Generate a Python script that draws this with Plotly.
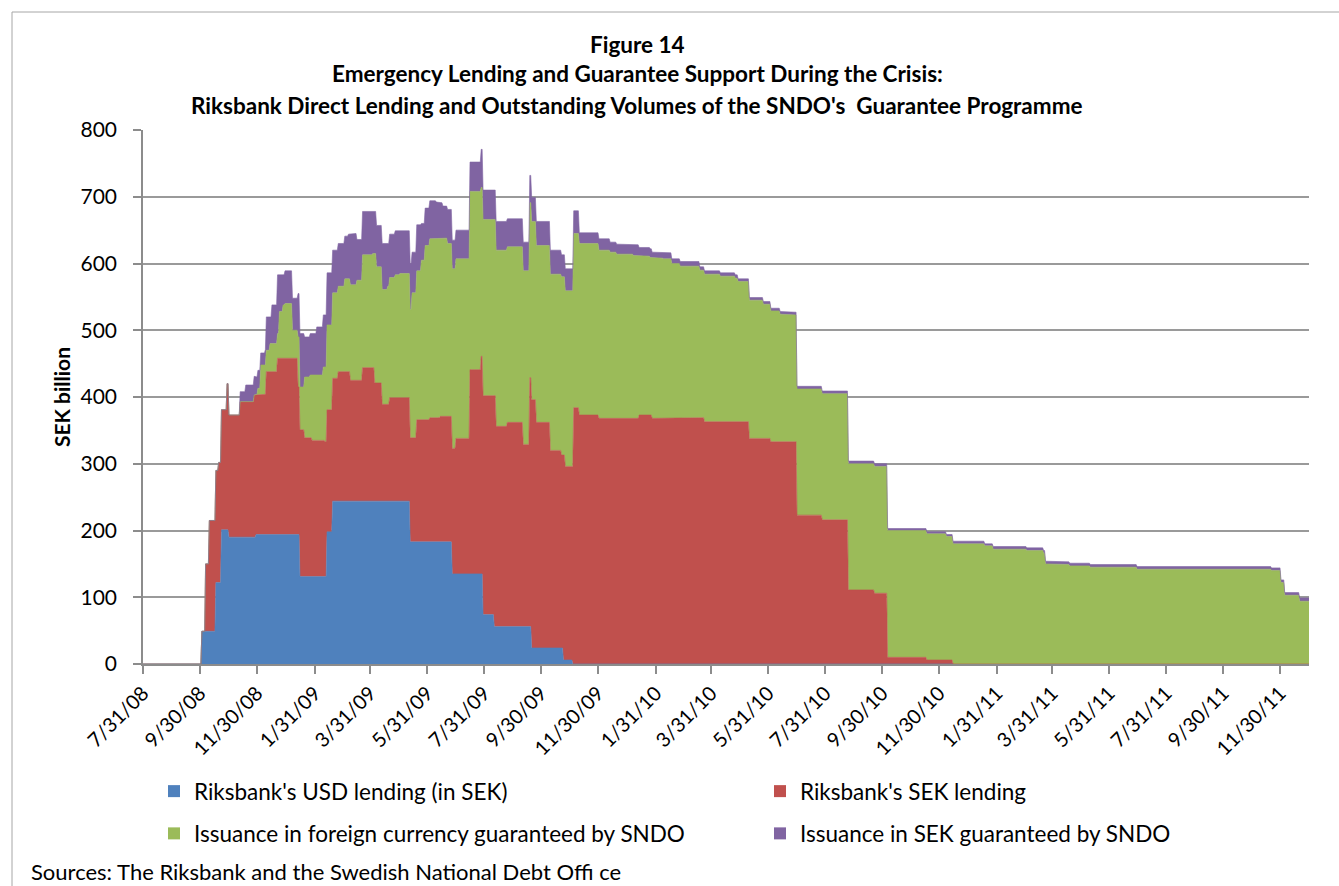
import pandas as pd
import plotly.graph_objects as go

# ---------------- data (SEK billion, values hold until next date) ----------------
dates = [
    "2008-07-31", "2008-10-02", "2008-10-06", "2008-10-10", "2008-10-17", "2008-10-20", "2008-10-23", "2008-10-29", "2008-10-31",
    "2008-11-12", "2008-11-18", "2008-11-27", "2008-11-29", "2008-12-01", "2008-12-04", "2008-12-09", "2008-12-10", "2008-12-14",
    "2008-12-16", "2008-12-22", "2008-12-24", "2008-12-28", "2008-12-30",
    "2009-01-07", "2009-01-13", "2009-01-15", "2009-01-20", "2009-01-26", "2009-01-28", "2009-02-02", "2009-02-09", "2009-02-11",
    "2009-02-13", "2009-02-19", "2009-02-25", "2009-03-04", "2009-03-08", "2009-03-10", "2009-03-17", "2009-03-23", "2009-04-03",
    "2009-04-05", "2009-04-07", "2009-04-13", "2009-04-19", "2009-04-21", "2009-04-27", "2009-05-02", "2009-05-13", "2009-05-15",
    "2009-05-20", "2009-05-25", "2009-05-29", "2009-06-03", "2009-06-10", "2009-06-14", "2009-06-17", "2009-06-22", "2009-06-27",
    "2009-07-01", "2009-07-16", "2009-07-28", "2009-07-30", "2009-08-11", "2009-08-13", "2009-08-25", "2009-09-11", "2009-09-18",
    "2009-09-20", "2009-09-25", "2009-10-10", "2009-10-22", "2009-10-24", "2009-10-26", "2009-11-03", "2009-11-04", "2009-11-10",
    "2009-12-01", "2009-12-13", "2009-12-20",
    "2010-01-07", "2010-01-13", "2010-01-25", "2010-01-27", "2010-02-08", "2010-02-17", "2010-02-26", "2010-03-19", "2010-03-24",
    "2010-04-10", "2010-04-26", "2010-04-29", "2010-05-11", "2010-05-26", "2010-06-03", "2010-06-13", "2010-06-28", "2010-07-01",
    "2010-07-28", "2010-08-25", "2010-09-22", "2010-10-06", "2010-11-17", "2010-12-08", "2010-12-15",
    "2011-01-18", "2011-01-27", "2011-03-04", "2011-03-22", "2011-03-24", "2011-04-06", "2011-04-19", "2011-05-11", "2011-06-30",
    "2011-11-21", "2011-12-01", "2011-12-05", "2011-12-21", "2011-12-31",
]

usd_lending = [
    0, 49, 49, 49, 122, 122, 201, 201, 190,
    190, 190, 190, 194, 194, 194, 194, 194, 194,
    194, 194, 194, 194, 194,
    194, 194, 131, 131, 131, 131, 131, 131, 131,
    198, 244, 244, 244, 244, 244, 244, 244, 244,
    244, 244, 244, 244, 244, 244, 244, 183, 183,
    183, 183, 183, 183, 183, 183, 183, 183, 135,
    135, 135, 135, 74, 56, 56, 56, 56, 56,
    24, 24, 24, 24, 6, 6, 0, 0, 0,
    0, 0, 0,
    0, 0, 0, 0, 0, 0, 0, 0, 0,
    0, 0, 0, 0, 0, 0, 0, 0, 0,
    0, 0, 0, 0, 0, 0, 0,
    0, 0, 0, 0, 0, 0, 0, 0, 0,
    0, 0, 0, 0, 0,
]

sek_lending = [
    0, 0, 101, 166, 168, 180, 180, 219, 183,
    203, 203, 213, 210, 210, 210, 210, 244, 244,
    244, 264, 264, 264, 264,
    264, 221, 220, 208, 208, 204, 204, 204, 202,
    183, 184, 194, 194, 194, 181, 181, 200, 200,
    177, 177, 145, 145, 155, 155, 155, 156, 156,
    183, 183, 183, 186, 186, 188, 188, 188, 188,
    203, 306, 326, 328, 346, 300, 306, 273, 373,
    372, 338, 296, 289, 307, 290, 296, 384, 373,
    368, 368, 368,
    368, 373, 373, 368, 369, 369, 369, 369, 363,
    363, 363, 363, 338, 338, 333, 333, 333, 223,
    216, 111, 106, 10, 6, 6, 0,
    0, 0, 0, 0, 0, 0, 0, 0, 0,
    0, 0, 0, 0, 0,
]

fx_guarantee = [
    0, 0, 0, 0, 0, 0, 0, 0, 0,
    0, 0, 0, 0, 9, 44, 44, 32, 42,
    42, 37, 70, 80, 82,
    42, 75, 64, 91, 94, 98, 98, 110, 112,
    127, 128, 128, 139, 139, 143, 150, 169, 171,
    194, 174, 172, 177, 180, 184, 186, 192, 217,
    223, 239, 261, 268, 268, 267, 267, 259, 269,
    269, 267, 253, 264, 264, 264, 263, 260, 262,
    267, 265, 264, 267, 267, 263, 263, 261, 257,
    252, 249, 246,
    244, 238, 236, 240, 238, 231, 227, 221, 221,
    218, 215, 210, 207, 201, 196, 191, 190, 189,
    189, 189, 190, 190, 189, 185, 180,
    177, 172, 170, 166, 150, 149, 147, 145, 142,
    140, 122, 103, 94, 94,
]

sek_guarantee = [
    0, 0, 0, 0, 0, 0, 0, 0, 0,
    15, 25, 28, 26, 27, 18, 23, 50, 40,
    58, 88, 55, 45, 49,
    48, 65, 80, 60, 62, 62, 72, 78, 78,
    78, 64, 64, 64, 67, 77, 61, 65, 63,
    63, 62, 69, 64, 65, 66, 64, 69, 61,
    69, 55, 56, 57, 55, 53, 48, 51, 43,
    43, 44, 57, 44, 44, 43, 42, 43, 41,
    36, 36, 36, 33, 33, 33, 33, 34, 16,
    17, 15, 15,
    16, 13, 13, 9, 9, 7, 7, 5, 5,
    5, 5, 4, 4, 4, 4, 4, 4, 4,
    4, 4, 4, 3, 3, 3, 4,
    3, 4, 4, 4, 4, 4, 4, 4, 4,
    4, 4, 4, 5, 5,
]

series_names = [
    "Riksbank's USD lending (in SEK)",
    "Riksbank's SEK lending",
    "Issuance in foreign currency guaranteed by SNDO",
    "Issuance in SEK guaranteed by SNDO",
]
series_values = [usd_lending, sek_lending, fx_guarantee, sek_guarantee]
series_colors = ["#4F81BD", "#C0504D", "#9BBB59", "#8064A2"]
legend_slot = ["legend", "legend2", "legend", "legend2"]

tick_dates = [
    "2008-07-31", "2008-09-30", "2008-11-30", "2009-01-31", "2009-03-31", "2009-05-31", "2009-07-31",
    "2009-09-30", "2009-11-30", "2010-01-31", "2010-03-31", "2010-05-31", "2010-07-31", "2010-09-30",
    "2010-11-30", "2011-01-31", "2011-03-31", "2011-05-31", "2011-07-31", "2011-09-30", "2011-11-30",
]
tick_labels = [f"{d.month}/{d.day}/{d:%y}" for d in pd.to_datetime(tick_dates)]

title_lines = [
    "Figure 14",
    "Emergency Lending and Guarantee Support During the Crisis:",
    "Riksbank Direct Lending and Outstanding Volumes of the SNDO's  Guarantee Programme",
]
source_text = "Sources: The Riksbank and the Swedish National Debt Offi ce"

# ---------------- figure ----------------
FONT = "Lato"
TXT = 22.5
daily = pd.date_range("2008-07-31", "2011-12-31", freq="D")
idx = pd.to_datetime(dates)

fig = go.Figure()
for name, vals, col in zip(series_names, series_values, series_colors):
    s = pd.Series(vals, index=idx).reindex(daily, method="ffill")
    fig.add_trace(go.Scatter(
        x=daily, y=s.values, name=name, mode="lines",
        line=dict(width=0.6, color=col), fillcolor=col,
        stackgroup="one", showlegend=False, hoverinfo="x+y+name",
    ))

# legend entries with square swatches (two columns)
for i, (name, col, lg) in enumerate(zip(series_names, series_colors, legend_slot)):
    fig.add_trace(go.Scatter(
        x=[None], y=[None], mode="markers", name=name, legend=lg,
        legendgroup=f"g{i}",
        marker=dict(symbol="square", size=12, color=col),
    ))

PL, PR, PT, PB = 143, 1309, 130, 664
W, H = 1339, 886
pw, ph = PR - PL, PB - PT


def px(x):
    return (x - PL) / pw


def py(y):
    return (PB - y) / ph


annotations = []
for line, yy in zip(title_lines, [44, 74, 105]):
    annotations.append(dict(
        text=f"<b>{line}</b>", x=px(637), y=py(yy), xref="paper", yref="paper",
        xanchor="center", yanchor="middle", showarrow=False,
        font=dict(family=FONT, size=TXT, color="black"),
    ))
annotations.append(dict(
    text=source_text, x=px(29), y=py(871), xref="paper", yref="paper",
    xanchor="left", yanchor="middle", showarrow=False,
    font=dict(family=FONT, size=22, color="black"),
))

legend_common = dict(
    orientation="v", yanchor="top", xanchor="left",
    traceorder="grouped", tracegroupgap=10,
    font=dict(family=FONT, size=TXT, color="black"),
    bgcolor="rgba(0,0,0,0)", borderwidth=0,
)

fig.update_layout(
    width=W, height=H,
    margin=dict(l=PL, r=W - PR, t=PT, b=H - PB, autoexpand=False),
    paper_bgcolor="white", plot_bgcolor="white",
    font=dict(family=FONT, size=TXT, color="black"),
    showlegend=True,
    legend=dict(x=px(154), y=py(770), **legend_common),
    legend2=dict(x=px(760), y=py(770), **legend_common),
    annotations=annotations,
    shapes=[dict(
        type="rect", xref="paper", yref="paper",
        x0=px(12), x1=px(1360), y0=py(905), y1=py(12),
        line=dict(color="#a6a6a6", width=1), layer="below",
    )],
    xaxis=dict(
        type="date", range=["2008-07-31", "2011-12-31"],
        tickvals=tick_dates, ticktext=tick_labels, tickangle=-45,
        ticks="outside", ticklen=8, tickwidth=1.5, tickcolor="#8c8c8c",
        showline=True, linecolor="#8c8c8c", linewidth=1.5,
        showgrid=False, zeroline=False,
        tickfont=dict(family=FONT, size=20, color="black"),
    ),
    yaxis=dict(
        range=[0, 800], dtick=100, tick0=0,
        ticks="outside", ticklen=8, tickwidth=1.5, tickcolor="#8c8c8c",
        showline=True, linecolor="#8c8c8c", linewidth=1.5,
        showgrid=True, gridcolor="#9a9a9a", gridwidth=1.5, zeroline=False,
        ticklabelstandoff=12,
        tickfont=dict(family=FONT, size=21, color="black"),
        title=dict(text="<b>SEK billion</b>", standoff=4,
                   font=dict(family=FONT, size=21, color="black")),
    ),
)

fig.write_html(
    "out.html",
    config={"displayModeBar": False},
    post_script="document.body.style.margin='0';",
)
